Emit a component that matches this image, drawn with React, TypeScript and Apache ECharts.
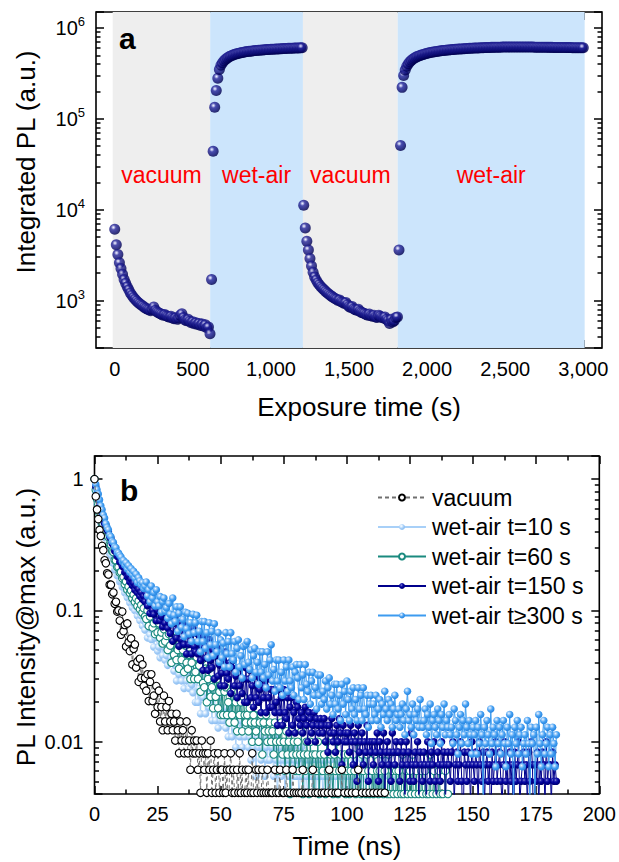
import React, { useEffect, useRef } from 'react';
import * as echarts from 'echarts';

// ---------------- Panel a : integrated PL vs exposure time ----------------
const STEP_A = 10; // s between acquisitions
const vacuum1Start = 0;
const vacuum1PL = [6100, 4100, 3200, 2600, 2250, 1950, 1700, 1550, 1420, 1310,
  1210, 1140, 1080, 1030, 990, 950, 920, 890, 870, 840,
  820, 800, 790, 770, 800, 850, 780, 750, 735, 720,
  705, 690, 700, 680, 665, 655, 670, 640, 630, 645,
  620, 640, 690, 715, 650, 610, 600, 620, 590, 570,
  585, 555, 570, 545, 560, 530, 550, 520, 540, 500,
  510, 430];
const wetAir1Start = 620;
const wetAir1PL = [1700, 44000, 134000, 205000, 280000, 350000, 390000, 415000, 435000, 452000,
  466000, 478000, 490000, 498000, 506000, 513000, 519000, 525000, 530000, 535000,
  539000, 543000, 547000, 550000, 553000, 556000, 559000, 562000, 564000, 566000,
  568000, 570000, 572000, 574000, 576000, 578000, 579000, 581000, 582000, 584000,
  585000, 587000, 588000, 589000, 591000, 592000, 593000, 594000, 596000, 597000,
  598000, 599000, 600000, 601000, 602000, 603000, 604000, 605000, 606000];
const vacuum2Start = 1210;
const vacuum2PL = [11200, 6300, 4500, 3600, 2900, 2400, 2050, 1820, 1680, 1570,
  1490, 1420, 1360, 1310, 1260, 1220, 1180, 1140, 1110, 1080,
  1050, 1030, 1000, 1010, 970, 950, 930, 950, 900, 860,
  840, 860, 810, 790, 780, 800, 760, 740, 730, 720,
  700, 690, 710, 680, 670, 690, 660, 650, 690, 670,
  650, 640, 660, 620, 600, 560, 620, 580, 600, 650,
  660];
const wetAir2Start = 1820;
const wetAir2PL = [3600, 51000, 222000, 300000, 345000, 380000, 405000, 425000, 442000, 456000,
  468000, 478000, 487000, 495000, 502000, 509000, 515000, 521000, 526000, 531000,
  536000, 540000, 544000, 548000, 552000, 555000, 558000, 561000, 564000, 567000,
  569000, 572000, 574000, 576000, 578000, 580000, 582000, 584000, 586000, 588000,
  589000, 591000, 592000, 594000, 595000, 597000, 598000, 599000, 601000, 602000,
  603000, 604000, 605000, 606000, 607000, 608000, 609000, 610000, 611000, 612000,
  612000, 613000, 614000, 614000, 615000, 615000, 616000, 616000, 617000, 617000,
  617000, 618000, 618000, 618000, 618000, 618000, 618000, 618000, 618000, 618000,
  617000, 617000, 617000, 617000, 616000, 616000, 616000, 615000, 615000, 615000,
  614000, 614000, 614000, 613000, 613000, 613000, 612000, 612000, 612000, 611000,
  611000, 611000, 610000, 610000, 610000, 609000, 609000, 609000, 608000, 608000,
  608000, 607000, 607000, 607000, 606000, 606000, 606000, 605000, 605000];

const phaseLabels = ['vacuum', 'wet-air', 'vacuum', 'wet-air'];
const phaseFrom = [-13, 611, 1205, 1812];
const phaseTo = [611, 1205, 1812, 3009];

const xTicksA = [0, 500, 1000, 1500, 2000, 2500, 3000];
const xMinorA = [250, 750, 1250, 1750, 2250, 2750];
const yRangeA = [300, 1.5e6];

// ---------------- Panel b : normalised PL decays (photon counts, 0.5 ns bins) ----------------
const STEP_B = 0.5; // ns
const vacuumCounts = [
  490, 362, 288, 243, 201, 181, 152, 141, 118, 112, 94, 92, 77, 77, 65, 67, 55, 57, 48, 49, 41,
  32, 48, 34, 38, 26, 39, 28, 24, 30, 19, 25, 27, 18, 20, 14, 21, 15, 19, 13, 15,
  12, 16, 10, 14, 16, 10, 11, 8, 13, 9, 12, 7, 9, 6, 11, 7, 9, 6, 10, 7,
  8, 6, 7, 5, 8, 6, 4, 7, 5, 6, 4, 5, 7, 4, 5, 3, 6, 4, 5, 4,
  5, 3, 4, 2, 5, 4, 3, 4, 2, 4, 3, 5, 2, 3, 4, 2, 3, 4, 2, 3,
  3, 2, 4, 2, 3, 1, 3, 4, 2, 3, 2, 1, 3, 2, 4, 2, 3, 1, 2, 3,
  2, 3, 1, 2, 4, 2, 1, 3, 2, 3, 1, 2, 3, 2, 1, 2, 3, 2, 1, 2,
  2, 1, 3, 2, 1, 2, 3, 1, 2, 2, 1, 3, 2, 1, 2, 1, 3, 2, 1, 2,
  1, 2, 1, 2, 3, 1, 2, 1, 2, 1, 1, 2, 3, 1, 2, 1, 2, 1, 1, 2,
  1, 2, 1, 1, 2, 3, 1, 2, 1, 1, 2, 1, 2, 1, 1, 3, 1, 2, 1, 1,
  2, 1, 1, 2, 1, 1, 2, 1, 3, 1, 1, 2, 1, 1, 2, 1, 1, 2, 1, 1,
  2, 1, 1, 2, 1, 1, 2, 1, 1, 2];
const wet10Counts = [
  550, 433, 357, 318, 270, 254, 226, 219, 199, 196, 178, 170, 150, 145, 128, 126, 112, 112, 101, 101, 91,
  92, 83, 85, 75, 79, 69, 73, 63, 67, 58, 62, 55, 59, 50, 54, 46, 50, 42, 46, 39,
  43, 34, 45, 36, 33, 39, 29, 34, 36, 27, 29, 24, 31, 25, 29, 23, 25, 21, 27, 22,
  24, 27, 19, 21, 16, 24, 18, 24, 16, 20, 14, 23, 16, 19, 14, 21, 15, 13, 17, 11,
  18, 11, 14, 9, 17, 12, 14, 9, 16, 11, 10, 14, 8, 12, 13, 8, 10, 7, 12, 8,
  10, 8, 9, 7, 10, 6, 8, 9, 6, 8, 7, 5, 8, 7, 6, 8, 5, 7, 6, 7,
  7, 5, 6, 4, 7, 5, 6, 3, 6, 5, 7, 4, 5, 6, 3, 5, 4, 6, 4, 5,
  5, 3, 6, 4, 2, 5, 4, 3, 5, 4, 2, 4, 5, 3, 4, 2, 5, 3, 4, 3,
  4, 2, 3, 5, 3, 1, 4, 3, 2, 4, 3, 4, 2, 3, 1, 4, 3, 2, 3, 4,
  2, 3, 4, 1, 3, 2, 4, 3, 1, 2, 3, 4, 2, 1, 3, 2, 4, 2, 3, 1,
  3, 2, 1, 3, 2, 4, 1, 2, 3, 1, 2, 4, 2, 1, 3, 2, 1, 3, 2, 2,
  1, 3, 2, 1, 2, 3, 1, 2, 4, 1, 2, 1, 3, 2, 1, 2, 3, 1, 2, 2];
const wet60Counts = [
  500, 414, 352, 322, 274, 261, 229, 226, 204, 205, 185, 181, 160, 158, 141, 139, 121, 120, 107, 107, 97,
  98, 88, 90, 79, 83, 72, 76, 68, 71, 62, 66, 58, 62, 54, 59, 51, 55, 48, 52, 45,
  43, 50, 38, 45, 48, 37, 40, 33, 42, 34, 40, 31, 34, 28, 36, 29, 32, 25, 33, 27,
  20, 31, 23, 30, 21, 25, 18, 29, 21, 25, 17, 27, 20, 18, 23, 15, 20, 23, 15, 17,
  22, 15, 19, 12, 21, 14, 13, 18, 10, 15, 18, 11, 13, 9, 15, 11, 15, 9, 12, 8,
  13, 8, 12, 13, 8, 10, 7, 12, 8, 12, 7, 10, 6, 12, 8, 10, 6, 11, 8, 7,
  8, 6, 9, 7, 5, 8, 7, 6, 9, 5, 7, 8, 4, 7, 6, 8, 5, 6, 7, 5,
  6, 4, 7, 5, 3, 6, 5, 7, 4, 5, 3, 6, 4, 5, 2, 6, 4, 5, 3, 4,
  5, 3, 4, 6, 2, 4, 3, 5, 4, 2, 5, 3, 4, 1, 4, 3, 5, 2, 4, 3,
  3, 4, 2, 5, 3, 1, 4, 3, 2, 4, 3, 5, 2, 3, 4, 1, 3, 4, 2, 3,
  4, 2, 3, 1, 4, 3, 2, 5, 1, 3, 2, 4, 3, 1, 2, 4, 3, 2, 1, 3,
  2, 4, 1, 3, 2, 3, 1, 4, 2, 3, 1, 2, 4, 2, 1, 3, 2, 1, 3, 2,
  3, 1, 2, 4, 2, 1, 3, 2, 1, 3, 2, 4, 1, 2, 3, 1, 2, 1, 3, 2,
  1, 3, 2, 1, 2, 4, 1, 2, 3, 1, 2, 1, 3, 2, 1, 2, 1, 3, 1, 2];
const wet150Counts = [
  600, 527, 461, 421, 372, 349, 312, 301, 276, 270, 247, 240, 218, 213, 194, 189, 170, 169, 155, 153, 140,
  141, 130, 129, 117, 118, 108, 111, 99, 104, 93, 97, 86, 92, 82, 87, 77, 82, 73, 77, 70,
  81, 65, 71, 57, 75, 60, 56, 65, 50, 60, 64, 50, 54, 45, 58, 48, 56, 44, 49, 40,
  54, 35, 48, 54, 37, 43, 32, 48, 36, 47, 33, 40, 28, 45, 33, 39, 28, 44, 32, 29,
  40, 28, 39, 25, 32, 21, 38, 26, 32, 21, 36, 25, 22, 30, 18, 27, 31, 19, 23, 16,
  20, 25, 16, 29, 20, 18, 24, 14, 22, 25, 16, 19, 13, 22, 16, 22, 14, 18, 12, 22,
  12, 18, 21, 13, 16, 11, 19, 13, 19, 12, 15, 10, 18, 13, 16, 10, 18, 13, 11, 15,
  11, 15, 10, 12, 8, 15, 10, 13, 8, 15, 10, 9, 13, 7, 11, 13, 8, 10, 7, 12,
  11, 9, 8, 10, 7, 9, 11, 8, 6, 10, 9, 7, 8, 10, 6, 9, 8, 7, 9, 8,
  7, 9, 6, 8, 5, 8, 7, 9, 6, 7, 5, 8, 6, 9, 7, 4, 8, 6, 7, 6,
  7, 5, 8, 6, 4, 7, 6, 3, 8, 5, 6, 7, 4, 6, 5, 8, 3, 6, 5, 6,
  4, 6, 5, 7, 3, 6, 5, 4, 7, 2, 5, 6, 4, 5, 3, 7, 5, 4, 6, 5,
  5, 3, 6, 4, 5, 2, 6, 4, 5, 3, 7, 4, 3, 5, 4, 6, 2, 5, 4, 3,
  5, 4, 2, 6, 4, 3, 5, 4, 6, 3, 2, 5, 4, 3, 6, 4, 5, 2, 4, 5,
  4, 3, 5, 6, 2, 4, 5, 3, 4, 6, 3, 1, 5, 4, 3, 5, 4, 2, 6, 4,
  3, 5, 4, 2, 6, 4, 3, 5, 2, 4, 5, 3, 4, 1, 5, 3, 4, 6, 3, 4,
  5, 3, 2, 4, 6, 3, 4, 2, 5, 3, 4, 1, 5, 3, 4, 6, 2, 3, 4, 5,
  3, 4, 2, 5, 3, 6, 4, 1, 4, 3, 5, 2, 4, 3, 5, 4, 2, 6, 3, 4,
  4, 2, 5, 3, 4, 3];
const wet300Counts = [
  620, 566, 515, 478, 431, 388, 362, 330, 313, 284, 265, 255, 232, 226, 208, 204, 189, 186, 171, 170, 163,
  158, 146, 149, 137, 143, 128, 136, 121, 129, 116, 123, 109, 117, 101, 110, 104, 97, 101, 91, 95,
  102, 80, 89, 72, 95, 77, 85, 67, 89, 72, 67, 79, 60, 72, 77, 61, 65, 54, 70, 58,
  49, 77, 57, 51, 66, 43, 59, 66, 46, 53, 39, 60, 45, 59, 41, 50, 36, 58, 42, 50,
  57, 36, 43, 30, 51, 36, 51, 32, 42, 27, 50, 34, 43, 28, 49, 34, 30, 42, 25, 37,
  27, 35, 23, 42, 29, 36, 23, 42, 29, 26, 36, 21, 32, 37, 23, 28, 19, 33, 24, 34,
  36, 25, 22, 31, 19, 28, 32, 21, 25, 17, 30, 21, 30, 19, 24, 16, 30, 20, 26, 34,
  18, 22, 15, 26, 18, 26, 16, 21, 14, 26, 18, 23, 15, 26, 18, 16, 23, 14, 21, 24,
  19, 13, 24, 16, 20, 13, 24, 17, 15, 21, 12, 18, 21, 14, 16, 11, 20, 14, 20, 12,
  15, 13, 18, 11, 16, 19, 12, 14, 10, 17, 12, 17, 11, 14, 9, 17, 12, 15, 10, 18,
  13, 9, 15, 11, 16, 10, 13, 9, 16, 11, 14, 9, 16, 11, 10, 14, 8, 12, 14, 9,
  12, 10, 14, 9, 11, 13, 8, 12, 10, 15, 11, 9, 13, 10, 12, 8, 11, 14, 9, 10,
  11, 8, 10, 12, 9, 7, 11, 15, 9, 10, 8, 12, 7, 10, 9, 11, 8, 13, 9, 8,
  9, 11, 7, 10, 8, 12, 6, 9, 10, 8, 7, 11, 9, 6, 10, 8, 12, 7, 9, 8,
  10, 7, 8, 6, 11, 9, 7, 5, 8, 10, 6, 9, 7, 12, 8, 6, 9, 7, 5, 8,
  7, 9, 5, 8, 6, 10, 7, 2, 8, 6, 9, 7, 5, 11, 6, 8, 7, 4, 9, 6,
  8, 5, 7, 9, 6, 4, 8, 6, 10, 5, 7, 2, 8, 6, 9, 5, 7, 8, 4, 6,
  7, 5, 9, 6, 2, 8, 6, 7, 2, 8, 5, 10, 6, 4, 7, 9, 5, 6, 8, 4,
  7, 5, 8, 6, 4, 7];

const decayNames = ['vacuum', 'wet-air t=10 s', 'wet-air t=60 s', 'wet-air t=150 s', 'wet-air t\u2265300 s'];
const yRangeB = [0.004, 1.5];

// ---------------- helpers ----------------
const FONT = '"Liberation Sans", Arial, Helvetica, sans-serif';
const BLACK = '#000';
const TICK = { color: BLACK, width: 1.5 };

function seg(start: number, values: number[]) {
  return values.map((v, i) => [start + i * STEP_A, v]);
}
function decay(counts: number[]) {
  const peak = Math.max(...counts);
  return counts.map((c, i) => [i * STEP_B, c / peak]);
}
const ball = (stops: [number, string][]) =>
  new echarts.graphic.RadialGradient(0.38, 0.34, 0.62, stops.map(([offset, color]) => ({ offset, color })));

const lg = (v: number) => Math.log10(v);
function minorLogs(lo: number, hi: number) {
  const out: number[] = [];
  for (let e = Math.floor(lg(lo)); e <= Math.ceil(lg(hi)); e++) {
    for (let m = 2; m <= 9; m++) {
      const v = m * Math.pow(10, e);
      if (v > lo * 1.0001 && v < hi * 0.9999) out.push(lg(v));
    }
  }
  return out;
}
const thousands = (v: number) => String(v).replace(/\B(?=(\d{3})+(?!\d))/g, ',');

function App() {
  const ref = useRef<HTMLDivElement>(null);
  useEffect(() => {
    if (!ref.current) return;
    const chart = echarts.init(ref.current, undefined, { renderer: 'svg' });

    const noLine = { show: false, onZero: false };
    const hiddenAxisBase = {
      axisLine: noLine,
      splitLine: { show: false },
      axisLabel: { show: false },
    };

    const xAxis: any[] = [
      // panel a
      {
        gridIndex: 0, type: 'value', min: -120, max: 3120, position: 'bottom',
        axisLine: noLine, splitLine: { show: false },
        axisTick: { show: true, inside: true, length: 8, customValues: xTicksA, lineStyle: TICK },
        axisLabel: { show: true, customValues: xTicksA, margin: 11, fontSize: 20, fontFamily: FONT, color: BLACK, formatter: (v: number) => thousands(v) },
      },
      { gridIndex: 0, type: 'value', min: -120, max: 3120, position: 'bottom', ...hiddenAxisBase,
        axisTick: { show: true, inside: true, length: 4.5, customValues: xMinorA, lineStyle: TICK } },
      { gridIndex: 0, type: 'value', min: -120, max: 3120, position: 'top', ...hiddenAxisBase,
        axisTick: { show: true, inside: true, length: 8, customValues: xTicksA, lineStyle: TICK } },
      { gridIndex: 0, type: 'value', min: -120, max: 3120, position: 'top', ...hiddenAxisBase,
        axisTick: { show: true, inside: true, length: 4.5, customValues: xMinorA, lineStyle: TICK } },
      // panel b
      {
        gridIndex: 1, type: 'value', min: 0, max: 200, interval: 25, position: 'bottom',
        axisLine: noLine, splitLine: { show: false },
        axisTick: { show: true, inside: true, length: 8, lineStyle: TICK },
        minorTick: { show: true, splitNumber: 2, length: 4.5, lineStyle: TICK },
        minorSplitLine: { show: false },
        axisLabel: { show: true, margin: 10, fontSize: 20, fontFamily: FONT, color: BLACK },
      },
      {
        gridIndex: 1, type: 'value', min: 0, max: 200, interval: 25, position: 'top', ...hiddenAxisBase,
        axisTick: { show: true, inside: true, length: 8, lineStyle: TICK },
        minorTick: { show: true, splitNumber: 2, length: 4.5, lineStyle: TICK },
      },
    ];

    const powLabelA = (v: number) => {
      const e = Math.round(lg(v));
      if (Math.abs(v / Math.pow(10, e) - 1) > 1e-6) return '';
      return `{b|10}{s|${e}}`;
    };
    const powLabelB = (v: number) => {
      const e = Math.round(lg(v));
      if (Math.abs(v / Math.pow(10, e) - 1) > 1e-6) return '';
      return String(Number(Math.pow(10, e).toFixed(4)));
    };

    const yAxis: any[] = [
      // panel a
      {
        gridIndex: 0, type: 'log', logBase: 10, min: yRangeA[0], max: yRangeA[1], position: 'left',
        axisLine: noLine, splitLine: { show: false },
        axisTick: { show: true, inside: true, length: 8, lineStyle: TICK },
        axisLabel: {
          show: true, margin: 11, formatter: powLabelA, color: BLACK,
          rich: {
            b: { fontSize: 20, fontFamily: FONT, color: BLACK },
            s: { fontSize: 13, fontFamily: FONT, color: BLACK, padding: [0, 0, 13, 0] },
          },
        },
      },
      { gridIndex: 0, type: 'log', logBase: 10, min: yRangeA[0], max: yRangeA[1], position: 'right', ...hiddenAxisBase,
        axisTick: { show: true, inside: true, length: 8, lineStyle: TICK } },
      { gridIndex: 0, type: 'value', min: lg(yRangeA[0]), max: lg(yRangeA[1]), position: 'left', ...hiddenAxisBase,
        axisTick: { show: true, inside: true, length: 4.5, customValues: minorLogs(yRangeA[0], yRangeA[1]), lineStyle: TICK } },
      { gridIndex: 0, type: 'value', min: lg(yRangeA[0]), max: lg(yRangeA[1]), position: 'right', ...hiddenAxisBase,
        axisTick: { show: true, inside: true, length: 4.5, customValues: minorLogs(yRangeA[0], yRangeA[1]), lineStyle: TICK } },
      // panel b
      {
        gridIndex: 1, type: 'log', logBase: 10, min: yRangeB[0], max: yRangeB[1], position: 'left',
        axisLine: noLine, splitLine: { show: false },
        axisTick: { show: true, inside: true, length: 8, lineStyle: TICK },
        axisLabel: { show: true, margin: 11, formatter: powLabelB, fontSize: 20, fontFamily: FONT, color: BLACK },
      },
      { gridIndex: 1, type: 'log', logBase: 10, min: yRangeB[0], max: yRangeB[1], position: 'right', ...hiddenAxisBase,
        axisTick: { show: true, inside: true, length: 8, lineStyle: TICK } },
      { gridIndex: 1, type: 'value', min: lg(yRangeB[0]), max: lg(yRangeB[1]), position: 'left', ...hiddenAxisBase,
        axisTick: { show: true, inside: true, length: 4.5, customValues: minorLogs(yRangeB[0], yRangeB[1]), lineStyle: TICK } },
      { gridIndex: 1, type: 'value', min: lg(yRangeB[0]), max: lg(yRangeB[1]), position: 'right', ...hiddenAxisBase,
        axisTick: { show: true, inside: true, length: 4.5, customValues: minorLogs(yRangeB[0], yRangeB[1]), lineStyle: TICK } },
    ];

    const navyBall = ball([[0, '#f4f4ff'], [0.13, '#b8b8e8'], [0.36, '#26269a'], [0.8, '#0b0b72'], [1, '#000050']]);
    const panelAData = [
      ...seg(vacuum1Start, vacuum1PL),
      ...seg(wetAir1Start, wetAir1PL),
      ...seg(vacuum2Start, vacuum2PL),
      ...seg(wetAir2Start, wetAir2PL),
    ];

    const gray = '#eeeeee';
    const blue = '#cce5fc';

    const decayStyles = [
      { counts: vacuumCounts, line: '#707070', dashed: true, fill: '#ffffff', border: '#000000', z: 8 },
      { counts: wet10Counts, line: '#a8d0f8', dashed: false,
        fill: ball([[0, '#ffffff'], [0.3, '#d6eafe'], [0.65, '#a4cdf7'], [1, '#8ebff2']]), border: null, z: 3 },
      { counts: wet60Counts, line: '#1a8a7f', dashed: false, fill: '#ffffff', border: '#1a8a7f', z: 4 },
      { counts: wet150Counts, line: '#00008c', dashed: false,
        fill: ball([[0, '#9a9ae0'], [0.25, '#2a2ab0'], [0.6, '#00009a'], [1, '#000074']]), border: null, z: 5 },
      { counts: wet300Counts, line: '#3d9bf0', dashed: false,
        fill: ball([[0, '#f0f8ff'], [0.25, '#a6d0fa'], [0.6, '#45a0f2'], [1, '#2b88e2']]), border: null, z: 6 },
    ];

    const decaySeries = decayStyles.map((s, i) => ({
      name: decayNames[i],
      type: 'line',
      xAxisIndex: 4,
      yAxisIndex: 4,
      data: decay(s.counts),
      z: s.z,
      clip: true,
      symbol: 'circle',
      symbolSize: 7.5,
      showSymbol: true,
      lineStyle: { color: s.line, width: 1, type: s.dashed ? [4, 3] : 'solid' },
      itemStyle: s.border
        ? { color: s.fill, borderColor: s.border, borderWidth: 1.1 }
        : { color: s.fill, borderWidth: 0 },
      emphasis: { disabled: true },
    }));

    const option: any = {
      animation: false,
      backgroundColor: '#ffffff',
      grid: [
        { left: 96, top: 12, width: 506, height: 336, show: true, borderColor: BLACK, borderWidth: 1.6, backgroundColor: 'transparent' },
        { left: 94.5, top: 456, width: 507, height: 338, show: true, borderColor: BLACK, borderWidth: 1.6, backgroundColor: 'transparent' },
      ],
      xAxis,
      yAxis,
      legend: {
        orient: 'vertical', left: 372, top: 481, itemWidth: 48, itemHeight: 7.5, itemGap: 6.5,
        selectedMode: false, data: decayNames,
        textStyle: { fontSize: 23, fontFamily: FONT, color: BLACK, lineHeight: 23, padding: [0, 0, 0, 1] },
      },
      series: [
        {
          name: 'Integrated PL',
          type: 'scatter',
          xAxisIndex: 0,
          yAxisIndex: 0,
          data: panelAData,
          symbolSize: 11,
          itemStyle: { color: navyBall, borderWidth: 0 },
          emphasis: { disabled: true },
          z: 3,
          markArea: {
            silent: true,
            z: 1,
            label: { show: true, position: 'insideTop', distance: 151, color: '#ff0000', fontSize: 23, fontFamily: FONT },
            data: phaseLabels.map((name, i) => [
              { name, xAxis: phaseFrom[i], itemStyle: { color: name === 'vacuum' ? gray : blue } },
              { xAxis: phaseTo[i] },
            ]),
          },
        },
        ...decaySeries,
      ],
      graphic: [
        { type: 'text', x: 119, y: 38, z: 20, style: { text: 'a', fontSize: 30, fontWeight: 'bold', fontFamily: FONT, fill: BLACK, align: 'left', verticalAlign: 'middle' } },
        { type: 'text', x: 120, y: 490, z: 20, style: { text: 'b', fontSize: 30, fontWeight: 'bold', fontFamily: FONT, fill: BLACK, align: 'left', verticalAlign: 'middle' } },
        { type: 'text', x: 26, y: 162, rotation: Math.PI / 2, style: { text: 'Integrated PL (a.u.)', fontSize: 26, fontFamily: FONT, fill: BLACK, align: 'center', verticalAlign: 'middle' } },
        { type: 'text', x: 359, y: 407, style: { text: 'Exposure time (s)', fontSize: 26, fontFamily: FONT, fill: BLACK, align: 'center', verticalAlign: 'middle' } },
        { type: 'text', x: 26, y: 627, rotation: Math.PI / 2, style: { text: 'PL Intensity@max (a.u.)', fontSize: 26, fontFamily: FONT, fill: BLACK, align: 'center', verticalAlign: 'middle' } },
        { type: 'text', x: 347, y: 846, style: { text: 'Time (ns)', fontSize: 26, fontFamily: FONT, fill: BLACK, align: 'center', verticalAlign: 'middle' } },
      ],
    };

    chart.setOption(option);
    return () => chart.dispose();
  }, []);

  return <div ref={ref} style={{ position: 'absolute', left: 0, top: 0, width: 619, height: 862, background: '#fff' }} />;
}

export default App;
